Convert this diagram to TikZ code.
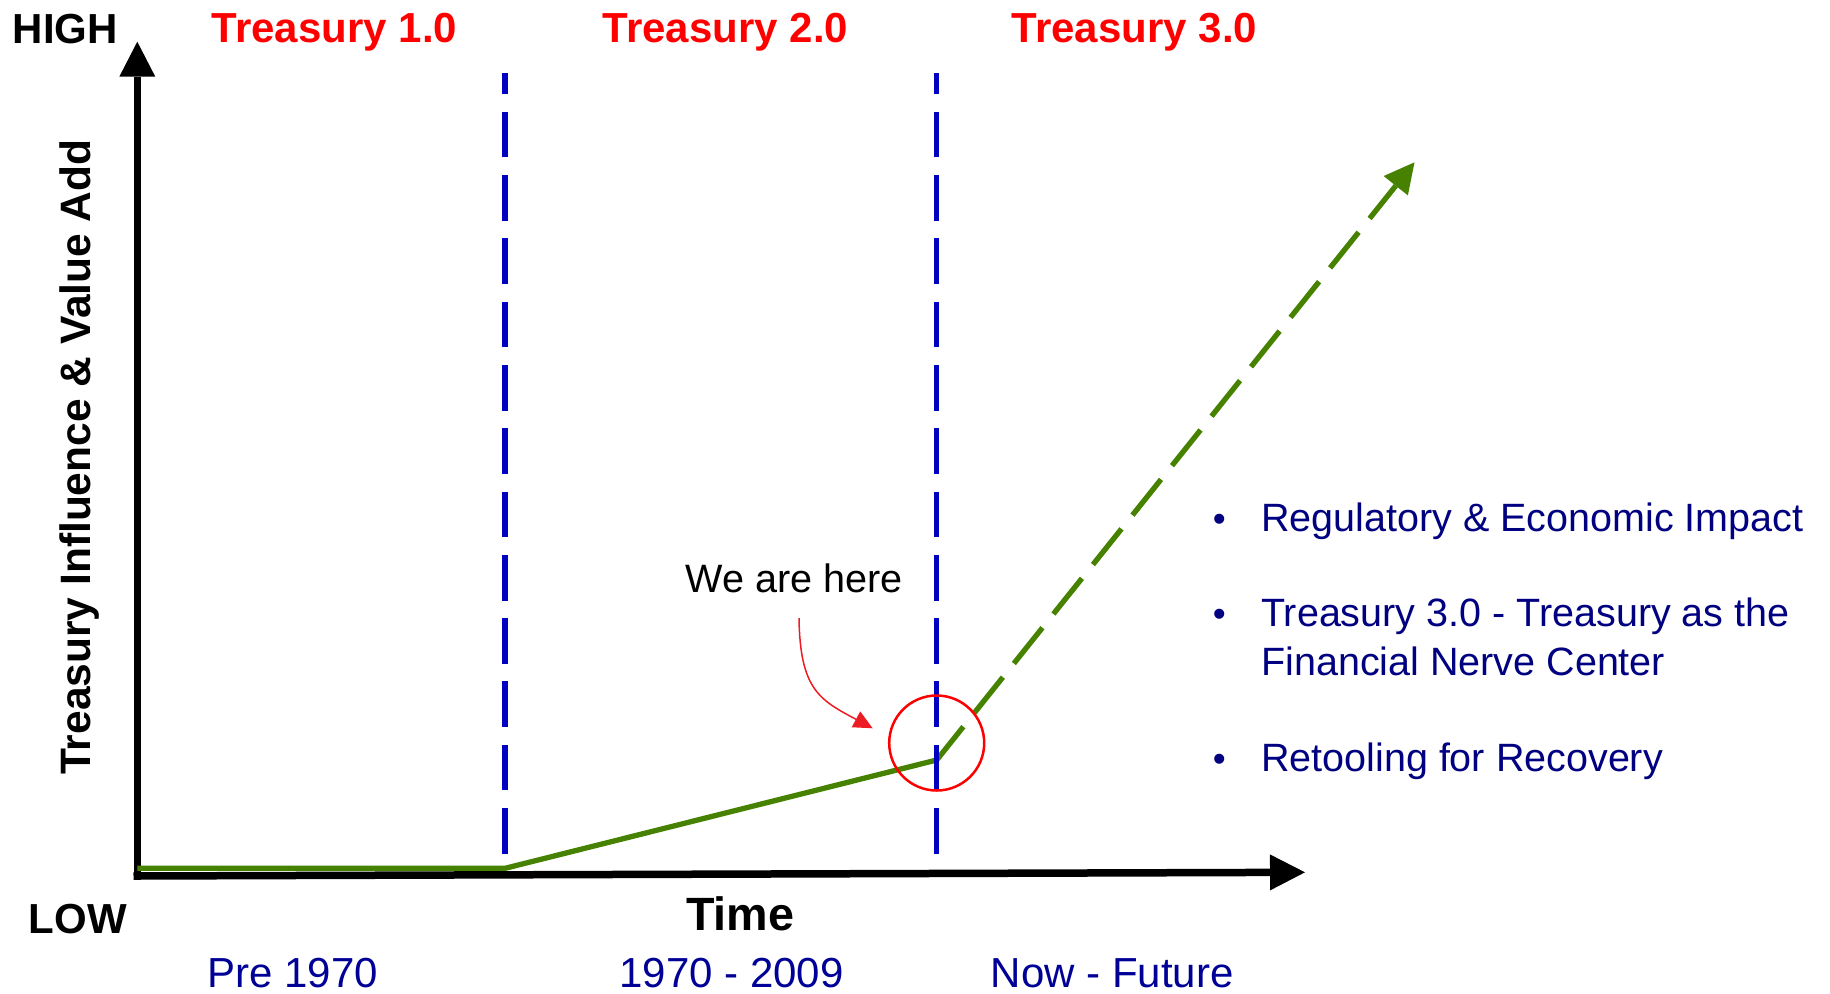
\documentclass[tikz,border=0pt]{standalone}
\usepackage{fontspec}
\setmainfont{Liberation Sans}
\usetikzlibrary{arrows.meta}
\definecolor{tred}{RGB}{255,0,0}
\definecolor{dblue}{RGB}{0,0,192}
\definecolor{pnavy}{RGB}{0,0,150}
\definecolor{bnavy}{RGB}{0,0,128}
\definecolor{gline}{RGB}{70,130,0}
\definecolor{ared}{RGB}{237,28,36}
\begin{document}
\begin{tikzpicture}[x=1pt,y=-1pt,
  lbl/.style={inner sep=0pt, anchor=base},
  bigbold/.style={lbl, font=\fontsize{42}{50}\selectfont\bfseries},
  era/.style={bigbold, text=tred},
  period/.style={lbl, font=\fontsize{42}{50}\selectfont, text=pnavy},
  bullettxt/.style={inner sep=0pt, anchor=base west, font=\fontsize{39.5}{48}\selectfont, text=bnavy},
  bulletdot/.style={inner sep=0pt, anchor=base, font=\fontsize{37}{48}\selectfont, text=bnavy},
  axisline/.style={line width=7.5pt, -{Triangle[length=35pt,width=36pt,line width=0pt]}},
  divider/.style={dblue, line width=5.5pt, dash pattern=on 45.7pt off 17.6pt},
  trend/.style={gline, line width=5.3pt},
  future/.style={trend, dash pattern=on 45.7pt off 17.6pt, dash phase=3pt, -{Triangle[length=30pt,width=31pt,line width=0pt]}},
  marker/.style={circle, draw=tred, line width=2.5pt, minimum size=95pt, inner sep=0pt},
  pointer/.style={ared, line width=1.5pt, -{Triangle[length=19pt,width=18pt,line width=0pt]}}
]
\useasboundingbox (0,0) rectangle (1830,993);

% axes
\coordinate (ybot) at (137.3,880);
\coordinate (ytip) at (137.3,41.7);
\coordinate (xleft) at (133.5,876);
\coordinate (xtip) at (1305,872.3);
\draw[axisline] (ybot) -- (ytip);
\draw[axisline] (xleft) -- (xtip);

% trend line
\coordinate (g0) at (137.3,868.2);
\coordinate (g1) at (505.5,868.2);
\coordinate (g2) at (936.7,760);
\coordinate (g3) at (1414.5,162.3);
\draw[trend, line join=miter] (g0) -- (g1) -- (g2);
\draw[future] (g2) -- (g3);

% era dividers
\coordinate (d1b) at (505,853.7);
\coordinate (d1t) at (505,72.7);
\coordinate (d2b) at (936.7,853.7);
\coordinate (d2t) at (936.7,72.7);
\draw[divider] (d1b) -- (d1t);
\draw[divider] (d2b) -- (d2t);

% we are here marker
\node[marker] (circ) at (936.7,743) {};
\node[lbl, font=\fontsize{39.6}{48}\selectfont] (here) at (794,592) {We are here};
\coordinate (ps) at (799,618);
\coordinate (pe) at (872.7,728.3);
\draw[pointer] (ps) .. controls (800,690) and (820,700) .. (pe);

% labels
\node[bigbold] (high) at (65.3,43.3) {HIGH};
\node[bigbold] (low) at (77.9,933.7) {LOW};
\node[lbl, font=\fontsize{46.7}{55}\selectfont\bfseries] (time) at (740.3,930.3) {Time};
\node[lbl, rotate=90, font=\fontsize{42.5}{50}\selectfont\bfseries] (ylab) at (90,457) {Treasury Influence \& Value Add};

\node[era] (t1) at (334.5,42.7) {Treasury 1.0};
\node[era] (t2) at (725.5,42.7) {Treasury 2.0};
\node[era] (t3) at (1134.5,42.7) {Treasury 3.0};

\node[period] (p1) at (292.7,987) {Pre 1970};
\node[period] (p2) at (731.6,987) {1970 - 2009};
\node[period, anchor=base west] (p3) at (990.5,987) {Now - Future};

% bullets
\node[bulletdot] (b1) at (1219.3,531.7) {•};
\node[bullettxt] (l1) at (1261,531.7) {Regulatory \& Economic Impact};
\node[bulletdot] (b2) at (1219.3,626.7) {•};
\node[bullettxt] (l2) at (1261,626.7) {Treasury 3.0 - Treasury as the};
\node[bullettxt] (l2b) at (1261,675) {Financial Nerve Center};
\node[bulletdot] (b3) at (1219.3,771.7) {•};
\node[bullettxt] (l3) at (1261,771.7) {Retooling for Recovery};
\end{tikzpicture}
\end{document}
